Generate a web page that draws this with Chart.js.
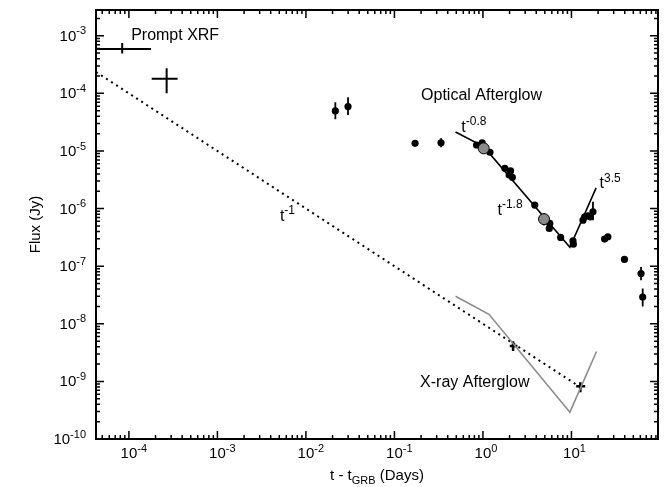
<!DOCTYPE html>
<html>
<head>
<meta charset="utf-8">
<script src="https://cdn.jsdelivr.net/npm/chart.js@4.4.1/dist/chart.umd.min.js"></script>
<style>
  html, body { margin: 0; padding: 0; background: #fff; }
  #wrap { width: 671px; height: 487px; }
</style>
</head>
<body>
<div id="wrap"><canvas id="chart" width="671" height="487"></canvas></div>
<script>
// prompt XRF, drawn as crosses
const promptT = [8.4e-5, 2.67e-4];
const promptFlux = [5.9e-4, 1.79e-4];
const promptTLo = [2e-5, 1.81e-4];
const promptTHi = [1.78e-4, 3.55e-4];
const promptFluxLo = [4.9e-4, 1.0e-4];
const promptFluxHi = [7.5e-4, 2.74e-4];

// optical afterglow points
const opticalT = [0.0215, 0.0299, 0.171, 0.336, 0.847, 0.98, 1.2, 1.77, 2.05, 1.98, 2.15, 3.85, 5.69, 5.62,
  7.55, 10.4, 10.5, 13.5, 14.1, 15.4, 16.3, 17.5, 23.7, 25.8, 39.7, 61.1, 63.8];
const opticalFlux = [4.96e-5, 5.89e-5, 1.36e-5, 1.39e-5, 1.27e-5, 1.39e-5, 9.5e-6, 5.0e-6, 4.5e-6, 3.83e-6, 3.49e-6,
  1.15e-6, 5.53e-7, 4.53e-7, 3.16e-7, 2.75e-7, 2.41e-7, 6.3e-7, 7.2e-7, 7.5e-7, 7.2e-7, 8.8e-7, 2.95e-7, 3.24e-7,
  1.31e-7, 7.47e-8, 2.92e-8];
const opticalFluxLo = [3.56e-5, 4.2e-5, null, 1.16e-5, null, null, null, null, null, null, null,
  null, null, null, null, null, null, null, null, null, null, 6.3e-7, null, null, null, 5.7e-8, 2.0e-8];
const opticalFluxHi = [7.0e-5, 8.6e-5, null, 1.67e-5, null, null, null, null, null, null, null,
  null, null, null, null, null, null, null, null, null, null, 1.31e-6, null, null, null, 9.7e-8, 4.1e-8];

// grey optical points
const greyT = [1.02, 4.9];
const greyFlux = [1.11e-5, 6.56e-7];
const greyFluxLo = [null, 5.1e-7];
const greyFluxHi = [null, 8.4e-7];

// broken power-law fit to the optical
const fitT = [0.49, 1.02, 9.6, 19.0];
const fitFlux = [2.14e-5, 1.19e-5, 2.12e-7, 2.29e-6];

// x-ray afterglow points and model
const xrayT = [2.19, 12.6];
const xrayFlux = [4.1e-9, 8.2e-10];
const xrayTLo = [2.01, 11.3];
const xrayTHi = [2.45, 14.3];
const xrayFluxLo = [3.37e-9, 6.5e-10];
const xrayFluxHi = [5.0e-9, 9.7e-10];
const xrayModelT = [0.49, 1.17, 9.6, 19.2];
const xrayModelFlux = [3.0e-8, 1.46e-8, 2.92e-10, 3.3e-9];

// t^-1 reference line
const powerT = [4.25e-5, 12.6];
const powerFlux = [2.35e-4, 7.94e-10];

// axes
const xTicks = [1e-4, 1e-3, 1e-2, 1e-1, 1, 10];
const xTickExp = ['-4', '-3', '-2', '-1', '0', '1'];
const yTicks = [1e-3, 1e-4, 1e-5, 1e-6, 1e-7, 1e-8, 1e-9, 1e-10];
const yTickExp = ['-3', '-4', '-5', '-6', '-7', '-8', '-9', '-10'];

// text labels: [x, y, text, superscript]
const notes = [
  [1.06e-4, 8.3e-4, 'Prompt XRF', ''],
  [0.2, 7.7e-5, 'Optical Afterglow', ''],
  [0.195, 8.0e-10, 'X-ray Afterglow', ''],
  [0.57, 2.17e-5, 't', '-0.8'],
  [1.46, 7.7e-7, 't', '-1.8'],
  [20.8, 2.25e-6, 't', '3.5'],
  [5.08e-3, 6.07e-7, 't', '-1']
];

const FONT = '"Liberation Sans", Arial, Helvetica, sans-serif';

function pts(xs, ys) {
  return xs.map((x, i) => ({ x: x, y: ys[i] }));
}

function supText(ctx, x, y, base, sup, size, align) {
  ctx.font = size + 'px ' + FONT;
  const wb = ctx.measureText(base).width;
  const ss = Math.round(size * 0.72);
  ctx.font = ss + 'px ' + FONT;
  const ws = sup ? ctx.measureText(sup).width : 0;
  let x0 = x;
  if (align === 'right') x0 = x - wb - ws;
  if (align === 'center') x0 = x - wb / 2;
  ctx.textAlign = 'left';
  ctx.textBaseline = 'alphabetic';
  ctx.font = size + 'px ' + FONT;
  ctx.fillText(base, x0, y);
  if (sup) {
    ctx.font = ss + 'px ' + FONT;
    ctx.fillText(sup, x0 + wb, y - size * 0.42);
  }
}

const errorBars = {
  id: 'errorBars',
  beforeDatasetsDraw(chart) {
    const ctx = chart.ctx, xs = chart.scales.x, ys = chart.scales.y, a = chart.chartArea;
    ctx.save();
    ctx.beginPath();
    ctx.rect(a.left, a.top, a.right - a.left, a.bottom - a.top);
    ctx.clip();
    ctx.strokeStyle = '#000';
    chart.data.datasets.forEach(ds => {
      const e = ds.err;
      if (!e) return;
      ctx.lineWidth = e.width;
      ds.data.forEach((p, i) => {
        const px = xs.getPixelForValue(p.x), py = ys.getPixelForValue(p.y);
        ctx.beginPath();
        if (e.yLo && e.yLo[i] != null) {
          ctx.moveTo(px, ys.getPixelForValue(e.yLo[i]));
          ctx.lineTo(px, ys.getPixelForValue(e.yHi[i]));
        }
        if (e.xLo && e.xLo[i] != null) {
          ctx.moveTo(xs.getPixelForValue(e.xLo[i]), py);
          ctx.lineTo(xs.getPixelForValue(e.xHi[i]), py);
        }
        ctx.stroke();
      });
    });
    ctx.restore();
  }
};

const frame = {
  id: 'frame',
  afterDraw(chart) {
    const ctx = chart.ctx, xs = chart.scales.x, ys = chart.scales.y, a = chart.chartArea;
    ctx.save();
    ctx.strokeStyle = '#000';
    ctx.fillStyle = '#000';
    ctx.lineWidth = 1.5;
    ctx.beginPath();
    // minor and major ticks, pointing inward
    for (let d = -5; d <= 2; d++) {
      for (let m = 1; m <= 9; m++) {
        const v = m * Math.pow(10, d);
        if (v < xs.min || v > xs.max) continue;
        const px = xs.getPixelForValue(v), len = m === 1 ? 8 : 4;
        ctx.moveTo(px, a.bottom); ctx.lineTo(px, a.bottom - len);
        ctx.moveTo(px, a.top); ctx.lineTo(px, a.top + len);
      }
    }
    for (let d = -11; d <= -2; d++) {
      for (let m = 1; m <= 9; m++) {
        const v = m * Math.pow(10, d);
        if (v < ys.min || v > ys.max) continue;
        const py = ys.getPixelForValue(v), len = m === 1 ? 8 : 4;
        ctx.moveTo(a.left, py); ctx.lineTo(a.left + len, py);
        ctx.moveTo(a.right, py); ctx.lineTo(a.right - len, py);
      }
    }
    ctx.stroke();
    ctx.lineWidth = 2;
    ctx.strokeRect(a.left, a.top, a.right - a.left, a.bottom - a.top);

    // tick labels
    xTicks.forEach((v, i) => supText(ctx, xs.getPixelForValue(v), 458, '10', xTickExp[i], 15, 'center'));
    yTicks.forEach((v, i) => supText(ctx, 86, ys.getPixelForValue(v) + 5, '10', yTickExp[i], 15, 'right'));

    // axis titles
    ctx.font = '15px ' + FONT;
    const t1 = 't - t', t2 = 'GRB', t3 = ' (Days)';
    const w1 = ctx.measureText(t1).width, w3 = ctx.measureText(t3).width;
    ctx.font = '11px ' + FONT;
    const w2 = ctx.measureText(t2).width;
    let x0 = (a.left + a.right) / 2 - (w1 + w2 + w3) / 2;
    ctx.textAlign = 'left';
    ctx.font = '15px ' + FONT;
    ctx.fillText(t1, x0, 480);
    ctx.font = '11px ' + FONT;
    ctx.fillText(t2, x0 + w1, 484);
    ctx.font = '15px ' + FONT;
    ctx.fillText(t3, x0 + w1 + w2, 480);

    ctx.save();
    ctx.translate(40, (a.top + a.bottom) / 2);
    ctx.rotate(-Math.PI / 2);
    ctx.textAlign = 'center';
    ctx.fillText('Flux (Jy)', 0, 0);
    ctx.restore();

    // annotations
    notes.forEach(n => supText(ctx, xs.getPixelForValue(n[0]), ys.getPixelForValue(n[1]), n[2], n[3], 16, 'left'));
    ctx.restore();
  }
};

const ctx = document.getElementById('chart');
new Chart(ctx, {
  type: 'scatter',
  data: {
    datasets: [
      {
        data: pts(greyT, greyFlux), order: 0,
        pointRadius: 5.5, backgroundColor: '#8a8a8a', borderColor: '#000', borderWidth: 1,
        err: { yLo: greyFluxLo, yHi: greyFluxHi, width: 1.5 }
      },
      {
        data: pts(opticalT, opticalFlux), order: 1,
        pointRadius: 3.6, backgroundColor: '#000', borderWidth: 0,
        err: { yLo: opticalFluxLo, yHi: opticalFluxHi, width: 1.8 }
      },
      {
        data: pts(promptT, promptFlux), order: 2, pointRadius: 0,
        err: { xLo: promptTLo, xHi: promptTHi, yLo: promptFluxLo, yHi: promptFluxHi, width: 2 }
      },
      {
        data: pts(xrayT, xrayFlux), order: 2, pointRadius: 0,
        err: { xLo: xrayTLo, xHi: xrayTHi, yLo: xrayFluxLo, yHi: xrayFluxHi, width: 2.5 }
      },
      {
        data: pts(fitT, fitFlux), order: 3, showLine: true, pointRadius: 0,
        borderColor: '#000', borderWidth: 1.6
      },
      {
        data: pts(xrayModelT, xrayModelFlux), order: 4, showLine: true, pointRadius: 0,
        borderColor: '#8c8c8c', borderWidth: 1.6
      },
      {
        data: pts(powerT, powerFlux), order: 5, showLine: true, pointRadius: 0,
        borderColor: '#000', borderWidth: 2, borderDash: [2, 4]
      }
    ]
  },
  options: {
    responsive: false,
    animation: false,
    devicePixelRatio: 1,
    layout: { padding: { left: 96, right: 13, top: 10, bottom: 48 } },
    plugins: { legend: { display: false }, tooltip: { enabled: false } },
    scales: {
      x: { type: 'logarithmic', min: 4.25e-5, max: 95, display: false },
      y: { type: 'logarithmic', min: 1e-10, max: 2.8e-3, display: false }
    }
  },
  plugins: [errorBars, frame]
});
</script>
</body>
</html>
